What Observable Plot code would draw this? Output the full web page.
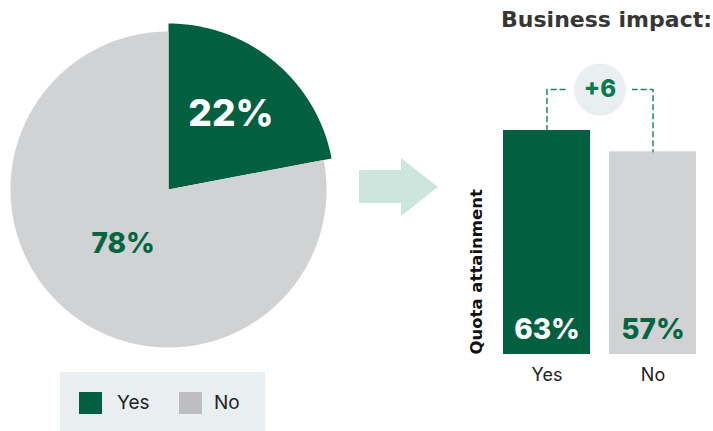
<!DOCTYPE html>
<html><head><meta charset="utf-8">
<script src="https://cdn.jsdelivr.net/npm/d3@7"></script>
<script src="https://cdn.jsdelivr.net/npm/@observablehq/plot@0.6"></script>
<style>
html,body{margin:0;padding:0;background:#fff;}
#root{position:relative;width:713px;height:431px;overflow:hidden;font-family:Inter,Lato,sans-serif;}
#pie{position:absolute;left:0;top:0;}
#bars{position:absolute;left:460px;top:0;}
#title{position:absolute;right:1px;top:7px;font-family:"DejaVu Sans",sans-serif;font-size:22px;line-height:26px;font-weight:700;color:#363636;white-space:nowrap;}
#legend{position:absolute;left:60px;top:372px;width:205px;height:59px;background:#e9eef0;}
.sw{position:absolute;top:20px;width:23px;height:22px;}
.lt{position:absolute;top:19px;font-size:19px;line-height:24px;color:#222;}
#arrow{position:absolute;left:359px;top:158px;width:79px;height:58px;background:#cce6dd;
 clip-path:polygon(0 12px,42px 12px,42px 0,79px 29px,42px 58px,42px 45px,0 45px);}
</style></head><body><div id="root"></div>
<script>
// ---- data ----
const pieLabels = ["Yes", "No"];
const pieValues = [22, 78];
const barCategories = ["Yes", "No"];
const barValues = [63, 57];
const differenceLabel = "+6";
const titleText = "Business impact:";
const yLabelText = "Quota attainment";

// ---- styles ----
const FONT = "Inter";
const GREEN = "#025f40", GRAY = "#d1d2d4", LEGEND_GRAY = "#bdbdbf", DASH = "#1a8a5c";
const pieColors = [GREEN, GRAY];
const pieLabelColors = ["#ffffff", "#046543"];
const pieLabelSizes = [37, 28];
const barColors = [GREEN, GRAY];
const barLabelColors = ["#ffffff", "#046543"];

const root = document.getElementById("root");

// ---- pie ----
const arcs = d3.pie().sort(null)(pieValues);
const radii = [166 / 158, 1];
const labelRadii = [0.62, 0.45];
const step = Math.PI / 360;
const sliceMarks = arcs.map((a, i) => {
  const pts = [{x: 0, y: 0}];
  for (let t = a.startAngle; t < a.endAngle; t += step) pts.push({x: radii[i] * Math.sin(t), y: -radii[i] * Math.cos(t)});
  pts.push({x: radii[i] * Math.sin(a.endAngle), y: -radii[i] * Math.cos(a.endAngle)});
  return Plot.line(pts, {x: "x", y: "y", fill: pieColors[i], stroke: "none"});
});
const pieLabelData = arcs.map((a, i) => {
  const m = (a.startAngle + a.endAngle) / 2;
  return {x: labelRadii[i] * Math.sin(m), y: -labelRadii[i] * Math.cos(m), text: pieValues[i] + "%", i};
});
const pie = Plot.plot({
  width: 340, height: 360, margin: 0,
  x: {domain: [-168 / 158, 172 / 158], axis: null},
  y: {domain: [-189 / 158, 171 / 158], range: [0, 360], axis: null},
  marks: [
    ...sliceMarks,
    ...pieLabelData.map(d => Plot.text([d], {x: "x", y: "y", text: "text", fill: pieLabelColors[d.i],
      fontSize: pieLabelSizes[d.i], fontWeight: 800, fontFamily: FONT}))
  ]
});
pie.id = "pie";
root.appendChild(pie);

// ---- arrow ----
const arrow = document.createElement("div");
arrow.id = "arrow";
root.appendChild(arrow);

// ---- legend ----
const legend = document.createElement("div");
legend.id = "legend";
const swX = [19, 119], txX = [57, 154];
const legendColors = [GREEN, LEGEND_GRAY];
pieLabels.forEach((l, i) => {
  const s = document.createElement("div");
  s.className = "sw"; s.style.left = swX[i] + "px"; s.style.background = legendColors[i];
  const t = document.createElement("div");
  t.className = "lt"; t.style.left = txX[i] + "px"; t.textContent = l;
  legend.appendChild(s); legend.appendChild(t);
});
root.appendChild(legend);

// ---- bars ----
const barData = barCategories.map((c, i) => ({cat: c, v: barValues[i], fill: barColors[i], lab: barLabelColors[i]}));
const level = d3.max(barValues) + 11.5;
const bracket = [
  {cat: barCategories[0], v: barValues[0]},
  {cat: barCategories[0], v: level},
  {cat: barCategories[1], v: level},
  {cat: barCategories[1], v: barValues[1]}
];
const bars = Plot.plot({
  width: 253, height: 400,
  marginLeft: 43, marginRight: 17, marginTop: 34, marginBottom: 46,
  style: {fontFamily: FONT, fontSize: "18px", color: "#222", background: "transparent", overflow: "visible"},
  x: {domain: barCategories, paddingInner: 0.18, paddingOuter: 0, label: null, tickSize: 0, tickPadding: 14},
  y: {domain: [0, 90], axis: null},
  color: {type: "identity"},
  marks: [
    Plot.barY(barData, {x: "cat", y: "v", fill: "fill"}),
    Plot.text(barData, {x: "cat", y: 0, text: d => d.v + "%", fill: "lab", dy: -16, lineAnchor: "bottom",
      fontSize: 28, fontWeight: 800, fontFamily: FONT}),
    Plot.line(bracket, {x: "cat", y: "v", stroke: DASH, strokeWidth: 1.5, strokeDasharray: "5,4"}),
    Plot.dot([level], {y: d => d, r: 32, fill: "white", stroke: "none"}),
    Plot.dot([level], {y: d => d, r: 26, fill: "#e9eef0", stroke: "none"}),
    Plot.text([differenceLabel], {y: () => level, text: d => d, fill: "#0c7a50", fontSize: 24, fontWeight: 800, fontFamily: FONT}),
    Plot.text([yLabelText], {frameAnchor: "bottom-left", rotate: -90, textAnchor: "start", dx: -22,
      fontSize: 16.5, fontWeight: 700, fill: "#111", fontFamily: "DejaVu Sans"})
  ]
});
bars.id = "bars";
root.appendChild(bars);

// ---- title ----
const title = document.createElement("div");
title.id = "title";
title.textContent = titleText;
root.appendChild(title);
</script></body></html>
